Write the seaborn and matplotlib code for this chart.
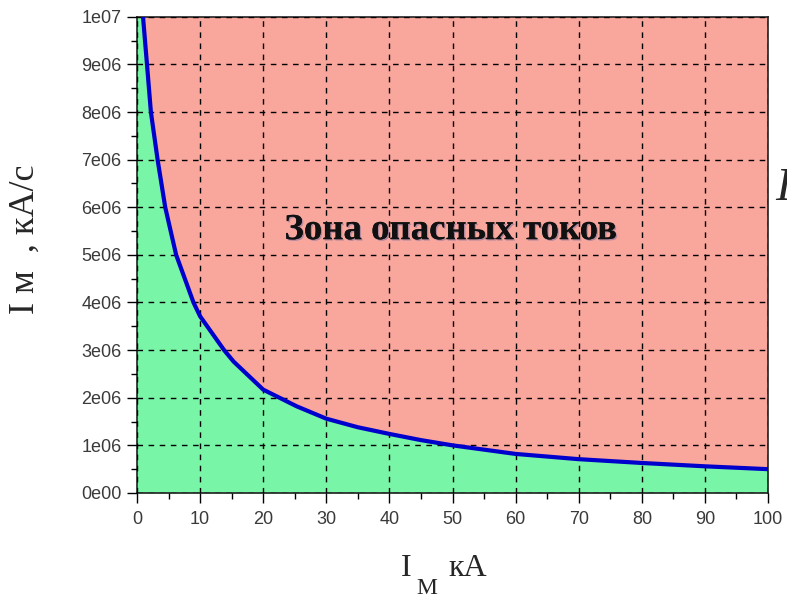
import numpy as np
import seaborn as sns
import matplotlib.pyplot as plt
from matplotlib import patheffects
from matplotlib.ticker import AutoMinorLocator

# curve: current (kA) vs. rate of rise (kA/s)
current_ka = [0.95, 1.58, 2.2, 3.26, 4.47, 6.2, 8.95, 10.0, 13.8, 15.3, 20, 25.3, 30,
              35, 40, 45, 50, 60, 70, 80, 90, 100]
rate_ka_s = [10.0e6, 9.0e6, 8.0e6, 7.0e6, 6.0e6, 5.0e6, 4.0e6, 3.71e6, 3.0e6, 2.76e6,
             2.17e6, 1.82e6, 1.56e6, 1.38e6, 1.24e6, 1.11e6, 1.0e6, 0.82e6, 0.71e6,
             0.63e6, 0.56e6, 0.5e6]

x_ticks = list(range(0, 101, 10))
y_ticks = [i * 1e6 for i in range(11)]
y_tick_labels = ['0e00', '1e06', '2e06', '3e06', '4e06', '5e06',
                 '6e06', '7e06', '8e06', '9e06', '1e07']
zone_label = 'Зона опасных токов'

sns.set_style('ticks')
plt.rcParams['font.family'] = ['Liberation Sans', 'DejaVu Sans']
serif = ['Liberation Serif', 'DejaVu Serif']

fig = plt.figure(figsize=(7.87, 5.99), dpi=100)
ax = fig.add_axes([0.1741, 0.177, 0.8018, 0.795])

xmin, xmax = x_ticks[0], x_ticks[-1]
ymin, ymax = y_ticks[0], y_ticks[-1]

ax.set_facecolor('#f9a69c')   # danger zone
ax.fill_between([xmin] + current_ka, [ymax] + rate_ka_s, ymin,
                color='#78f5a6', linewidth=0, zorder=1)
sns.lineplot(x=current_ka, y=rate_ka_s, color='#0000cc', linewidth=3,
             ax=ax, zorder=3)

ax.set_xlim(xmin, xmax)
ax.set_ylim(ymin, ymax)
ax.set_xticks(x_ticks)
ax.set_yticks(y_ticks, labels=y_tick_labels)
ax.xaxis.set_minor_locator(AutoMinorLocator(2))
ax.yaxis.set_minor_locator(AutoMinorLocator(2))
ax.tick_params(which='major', direction='out', length=7, width=1, color='black',
               labelsize=13, labelcolor='#3a3a3a', pad=4)
ax.tick_params(axis='x', which='major', pad=6)
ax.tick_params(which='minor', direction='out', length=4, width=1, color='black')

ax.set_axisbelow(False)
ax.grid(True, which='major', color='black', linestyle=(0, (4, 4)), linewidth=1)
for s in ax.spines.values():
    s.set_color('#222222')
    s.set_linewidth(1.2)

ax.text(49.7, 5.33e6, zone_label, ha='center', va='baseline', fontsize=26.5,
        fontweight='bold', family=serif, color='#111111', zorder=5,
        path_effects=[patheffects.withSimplePatchShadow(offset=(1, -1),
                                                        shadow_rgbFace='#3050a0',
                                                        alpha=0.35),
                      patheffects.Normal()])

# axis titles
fig.text(401 / 787, 1 - 576 / 599, 'I', fontsize=23, family=serif, va='baseline')
fig.text(416 / 787, 1 - 594 / 599, 'М', fontsize=17, family=serif, va='baseline')
fig.text(448 / 787, 1 - 576 / 599, 'кА', fontsize=23, family=serif, va='baseline')
fig.text(0.032, 0.6, 'I м  , кА/с', rotation=90, fontsize=26, family=serif,
         ha='center', va='center')
fig.text(775 / 787, 1 - 200 / 599, 'I', fontsize=34, style='italic', family=serif,
         va='baseline')

fig.savefig('out.png', dpi=100)
